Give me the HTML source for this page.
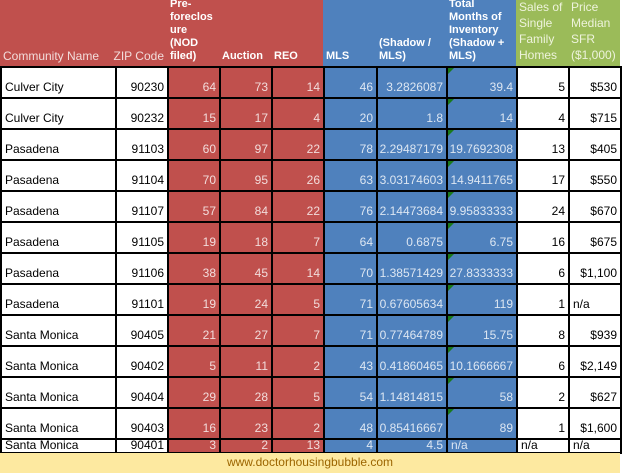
<!DOCTYPE html>
<html><head><meta charset="utf-8"><style>
body{margin:0;width:622px;height:473px;background:#fff;position:relative;overflow:hidden;font-family:"Liberation Sans",sans-serif}
.c{position:absolute;box-sizing:border-box;font-size:12px;line-height:14px;padding:0 3px 3px 3px;display:flex;align-items:flex-end;white-space:nowrap;overflow:hidden}
.h{position:absolute;box-sizing:border-box;padding:0 3px 3px 3px;display:flex;align-items:flex-end;}
.tri{position:absolute;width:0;height:0;border-top:6px solid #1a7a1a;border-right:6px solid transparent}
</style></head><body>
<div id="tbl"></div>
<div style="position:absolute;left:0;top:453px;width:620px;height:20px;background:#fde9a0;color:#9c6500;font-size:12px;text-align:center;line-height:19px">www.doctorhousingbubble.com</div>
<script>
const cols=[0,115,167,219,271,323,376,446,516,568,620];
const headers=["Community Name","ZIP Code","Pre-<br>foreclos<br>ure<br>(NOD<br>filed)","Auction","REO","MLS","(Shadow /<br>MLS)","Total<br>Months of<br>Inventory<br>(Shadow +<br>MLS)","Sales of<br>Single<br>Family<br>Homes","Price<br>Median<br>SFR<br>($1,000)"];
const names=["Culver City","Culver City","Pasadena","Pasadena","Pasadena","Pasadena","Pasadena","Pasadena","Santa Monica","Santa Monica","Santa Monica","Santa Monica","Santa Monica"];
const zips=["90230","90232","91103","91104","91107","91105","91106","91101","90405","90402","90404","90403","90401"];
const preforeclosure=[64,15,60,70,57,19,38,19,21,5,29,16,3];
const auction=[73,17,97,95,84,18,45,24,27,11,28,23,2];
const reo=[14,4,22,26,22,7,14,5,7,2,5,2,13];
const mls=[46,20,78,63,76,64,70,71,71,43,54,48,4];
const shadowRatio=["3.2826087","1.8","2.29487179","3.03174603","2.14473684","0.6875","1.38571429","0.67605634","0.77464789","0.41860465","1.14814815","0.85416667","4.5"];
const months=["39.4","14","19.7692308","14.9411765","9.95833333","6.75","27.8333333","119","15.75","10.1666667","58","89","n/a"];
const sales=["5","4","13","17","24","16","6","1","8","6","2","1","n/a"];
const price=["$530","$715","$405","$550","$670","$675","$1,100","n/a","$939","$2,149","$627","$1,600","n/a"];
const rowTops=[66,97,128,159,190,221,252,283,314,345,376,407,438,452];
const bgs=["#fff","#fff","#c0504d","#c0504d","#c0504d","#4f81bd","#4f81bd","#4f81bd","#fff","#fff"];
const hbg=["#c0504d","#c0504d","#c0504d","#c0504d","#c0504d","#4f81bd","#4f81bd","#4f81bd","#9bbb59","#9bbb59"];
const keys=["name","zip","pre","auction","reo","mls","ratio","months","sales","price"];
const tbl=document.getElementById('tbl');
for(let j=0;j<10;j++){
  const h=document.createElement('div');
  h.className='h';
  
  
  const bold=j>=2&&j<=7, green=j>=8;
  h.style.cssText=`left:${cols[j]}px;top:0;width:${cols[j+1]-cols[j]}px;height:66px;background:${hbg[j]};color:${green?'#eef3dc':(j<2?'#f2dcdb':'#fff')};font-size:${green?12:(j<2?12:11)}px;line-height:${green?16:13}px;font-weight:${bold?'bold':'normal'};${j<2?'white-space:nowrap;':''}${j==1?'justify-content:flex-end;':''}`;
  h.innerHTML=headers[j];
  tbl.appendChild(h);
}
for(let i=0;i<13;i++){
  const vals=[names[i],zips[i],preforeclosure[i],auction[i],reo[i],mls[i],shadowRatio[i],months[i],sales[i],price[i]];
  for(let j=0;j<10;j++){
    const d=document.createElement('div');
    d.className='c';
    
    
    const v=String(vals[j]);
    const left=(j==0)||(v=='n/a'&&j>=7);
    const colored=j>=2&&j<=7;
    d.style.cssText+=`left:${cols[j]}px;top:${rowTops[i]}px;width:${cols[j+1]-cols[j]+2}px;height:${rowTops[i+1]-rowTops[i]+2}px;background:${bgs[j]};color:${colored?(j<5?'#f2dcdb':'#dce6f2'):'#000'};justify-content:${left?'flex-start':'flex-end'};border:2px solid #000;${colored?'border-color:#000;':''}`;
    if(i==12){d.style.paddingBottom='0px';d.style.lineHeight='13px';}
    d.textContent=v;
    tbl.appendChild(d);
    if(j==7&&i<12){
      const t=document.createElement('div');
      t.className='tri';
      
      
      t.style.left=(cols[j]+2)+'px';t.style.top=(rowTops[i]+2)+'px';
      tbl.appendChild(t);
    }
  }
}
</script>
</body></html>
